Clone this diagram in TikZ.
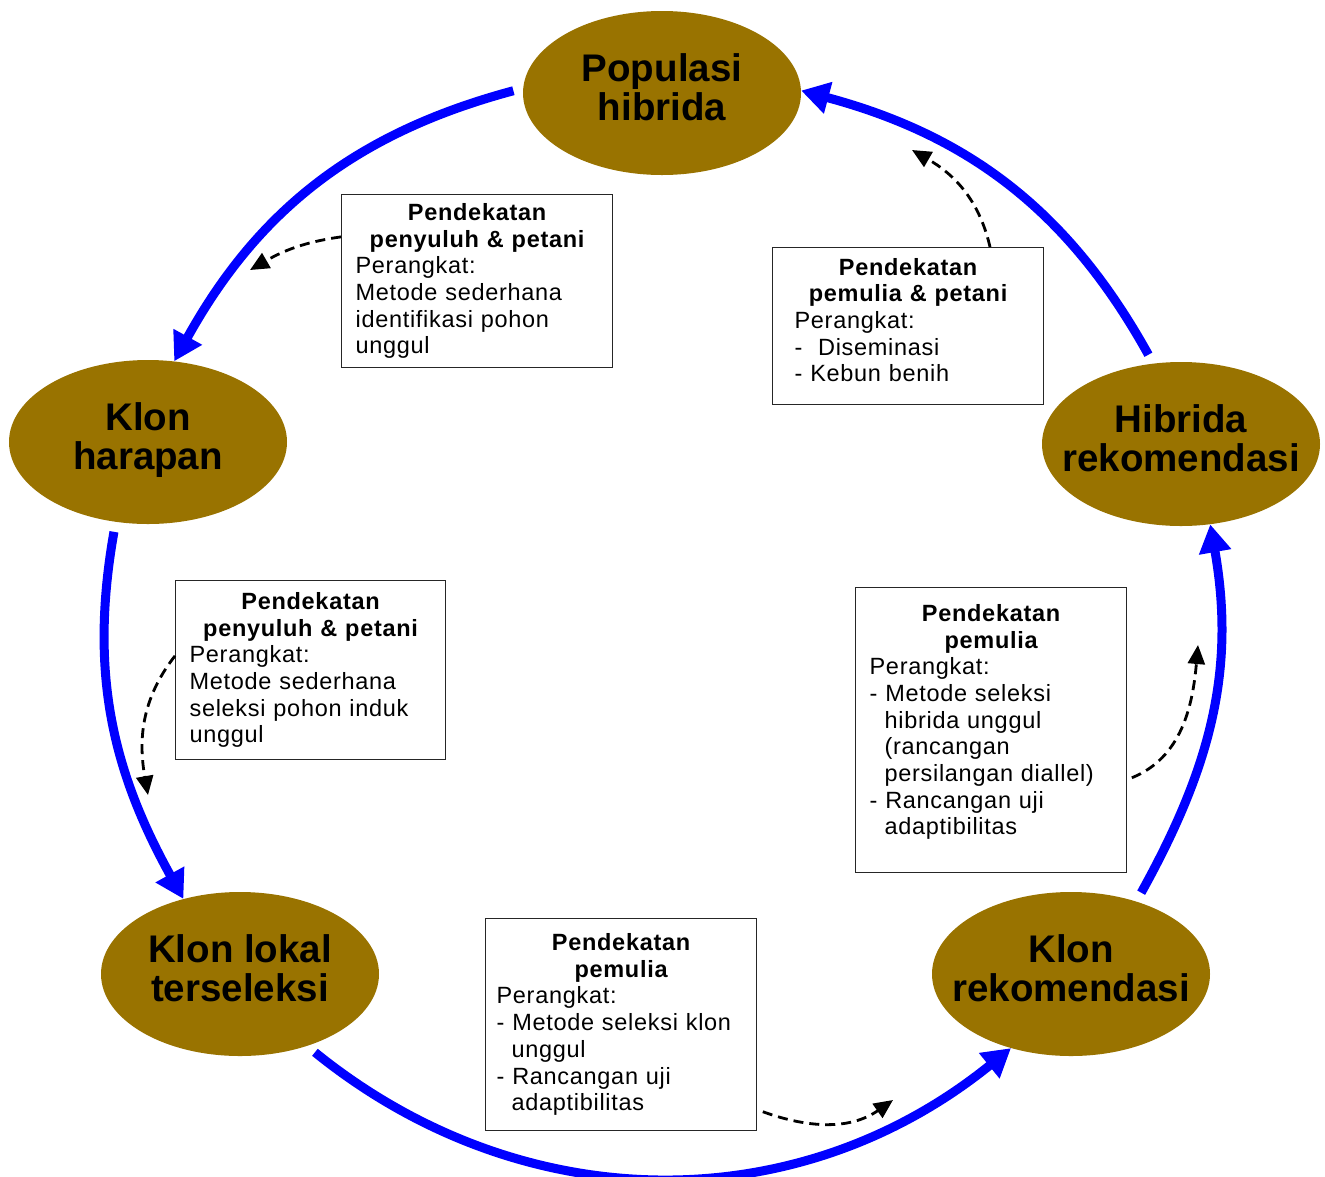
\documentclass[tikz,border=0pt]{standalone}
\usepackage{fontspec}
\setmainfont{Liberation Sans}
\newfontfamily\alatfont[LetterSpace=3,WordSpace=1.3]{Liberation Sans}
\usetikzlibrary{shapes.geometric,arrows.meta}
\definecolor{klonbrown}{RGB}{153,115,0}
\setlength{\parindent}{0pt}
\newcommand{\etiket}[1]{\makebox[0pt]{\begin{tabular}{@{}c@{}}#1\end{tabular}}}
\newcommand{\judul}[1]{{\centering\bfseries #1\par}}
\newcommand{\ekor}[1]{\par\nointerlineskip\rule{0pt}{#1}}

\begin{document}
\begin{tikzpicture}[x=1pt,y=1pt,
  stage/.style={ellipse, fill=klonbrown, minimum width=278pt, minimum height=164pt,
    inner sep=0pt, font=\fontsize{38.5}{38}\selectfont\bfseries},
  alat/.style={draw=black!85, line width=1.2pt, anchor=north west, inner xsep=14pt,
    inner ysep=0pt, minimum width=271pt, text width=243pt,
    execute at begin node=\raggedright, font=\alatfont\fontsize{23.5}{26.7}\selectfont},
  flow/.style={blue, line width=9pt, -{Triangle[length=28pt,width=31pt]}},
  hint/.style={line width=2.8pt, dash pattern=on 10pt off 6pt,
    -{Triangle[length=19pt,width=17pt]}}]
  \useasboundingbox (0,0) rectangle (1325,-1176);

  \node[stage] (pop)     at (662,-93)   {\etiket{Populasi\\hibrida}};
  \node[stage] (harapan) at (148,-442)  {\etiket{Klon\\harapan}};
  \node[stage] (hibrek)  at (1181,-444) {\etiket{Hibrida\\rekomendasi}};
  \node[stage] (lokal)   at (240,-974)  {\etiket{Klon lokal\\terseleksi}};
  \node[stage] (klonrek) at (1071,-974) {\etiket{Klon\\rekomendasi}};

  \node[alat, minimum height=173pt] (alatIdent) at (341,-194)
    {\judul{Pendekatan\\penyuluh \& petani}
     Perangkat:\\Metode sederhana\\identifikasi pohon\\unggul};
  \node[alat, minimum height=157pt, inner xsep=22pt, text width=227pt] (alatDisem) at (772,-247)
    {\judul{Pendekatan\\pemulia \& petani}
     Perangkat:\\-\ \ Diseminasi\\- Kebun benih\ekor{12pt}};
  \node[alat, minimum height=179pt, minimum width=270pt, text width=242pt] (alatInduk) at (175,-580)
    {\judul{Pendekatan\\penyuluh \& petani}
     Perangkat:\\Metode sederhana\\seleksi pohon induk\\unggul};
  \node[alat, minimum height=285pt] (alatHibrida) at (855,-587)
    {\judul{Pendekatan\\pemulia}
     Perangkat:\\- Metode seleksi\\\hspace*{15pt}hibrida unggul\\\hspace*{15pt}(rancangan\\
     \hspace*{15pt}persilangan diallel)\\- Rancangan uji\\\hspace*{15pt}adaptibilitas\ekor{16pt}};
  \node[alat, minimum height=212pt, inner xsep=11pt, text width=249pt] (alatKlon) at (485,-918)
    {\judul{Pendekatan\\pemulia}
     Perangkat:\\- Metode seleksi klon\\\hspace*{15pt}unggul\\- Rancangan uji\\\hspace*{15pt}adaptibilitas};

  \draw[flow, shorten <=10pt] (pop.178) to[out=195, in=61] (harapan.72);
  \draw[flow, shorten <=10pt] (harapan.248) to[out=260, in=119] (lokal.127);
  \draw[flow, shorten <=10pt] (lokal.-47) to[out=321, in=219] (klonrek.231);
  \draw[flow, shorten <=10pt] (klonrek.48) to[out=61, in=-80] (hibrek.-70);
  \draw[flow, shorten <=10pt] (hibrek.109) to[out=119, in=-15] (pop.1);

  \coordinate (tipIdent)   at (250,-270);
  \coordinate (tipDisem)   at (912,-150);
  \coordinate (tipInduk)   at (148,-795);
  \coordinate (tipHibrida) at (1198,-645);
  \coordinate (tipKlon)    at (893,-1100);

  \draw[hint] (alatIdent.162) to[out=188, in=30] (tipIdent);
  \draw[hint] (alatDisem.44) to[out=103, in=-30] (tipDisem);
  \draw[hint] (alatInduk.174) to[out=232, in=100] (tipInduk);
  \draw[hint, shorten <=5pt] (alatHibrida.-20) to[out=22, in=-95] (tipHibrida);
  \draw[hint, shorten <=6pt] (alatKlon.-32) to[out=-20, in=215] (tipKlon);
\end{tikzpicture}
\end{document}
